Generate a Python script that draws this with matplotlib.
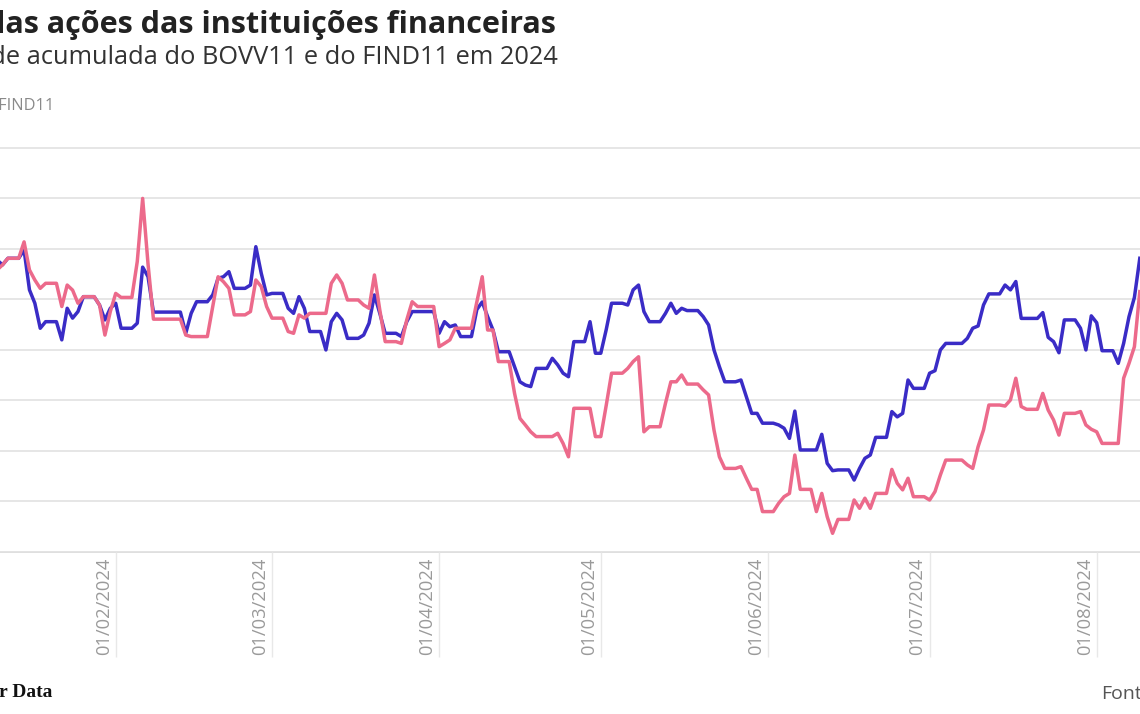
import numpy as np
import pandas as pd
import matplotlib
matplotlib.use("Agg")
import matplotlib.pyplot as plt
import matplotlib.dates as mdates
import matplotlib.transforms as mtransforms

# pregões de 10/01/2024 a 09/08/2024 (sem carnaval, sexta-feira santa, 1/5, corpus christi)
feriados = ["2024-02-12", "2024-02-13", "2024-03-29", "2024-05-01", "2024-05-30"]
pregoes = pd.bdate_range("2024-01-10", "2024-08-09", freq="C", holidays=feriados)

# rentabilidade acumulada no ano (%), um valor por pregão
bovv11 = [
    -2.44, -2.63, -2.37, -2.04, -3.62, -4.15, -5.14, -4.88, -5.60, -4.35, -4.74, -4.48, -3.89, -4.22, -4.81, -4.35,  # jan
    -4.15, -5.14, -4.94, -2.72, -3.10, -4.50, -4.50, -5.34, -4.55, -4.09, -3.82, -3.16, -3.10, -2.90, -3.56, -3.43, -1.91, -2.96, -3.82,  # fev
    -3.76, -4.35, -4.55, -3.89, -4.35, -5.27, -6.00, -4.88, -4.55, -4.81, -5.54, -5.41, -4.94, -3.82, -4.55, -5.34, -5.47, -4.88, -4.48, -4.48,  # mar
    -5.34, -4.88, -5.08, -5.01, -5.47, -4.40, -4.10, -4.68, -5.21, -6.07, -6.66, -7.26, -7.39, -7.45, -6.73, -6.33, -6.59, -6.92, -7.06, -5.67, -4.88, -6.13,  # abr
    -5.20, -4.15, -4.22, -3.62, -3.43, -4.48, -4.88, -4.55, -4.15, -4.55, -4.35, -4.44, -4.68, -5.01, -6.00, -6.66, -7.26, -7.19, -7.85, -8.51, -8.90,  # mai
    -8.97, -9.10, -9.50, -8.42, -9.96, -9.96, -9.34, -10.49, -10.78, -10.75, -11.15, -10.69, -10.29, -10.16, -9.46, -8.44, -8.65, -8.51, -7.19, -7.52,  # jun
    -6.92, -6.82, -6.00, -5.74, -5.74, -5.54, -5.14, -5.05, -4.22, -3.78, -3.43, -3.62, -3.29, -4.75, -4.75, -4.52, -5.50, -5.67, -6.11, -4.81, -5.14, -6.00, -4.65,  # jul
    -4.92, -6.03, -6.53, -5.74, -4.68, -3.92, -2.37,  # ago
]
find11 = [
    -2.83, -2.63, -2.37, -1.72, -2.83, -3.23, -3.56, -3.36, -4.28, -3.43, -3.63, -4.15, -3.89, -4.22, -5.41, -4.48,  # jan
    -3.76, -3.92, -2.50, 0.00, -2.60, -4.78, -4.78, -5.41, -5.47, -5.47, -4.28, -3.10, -3.30, -3.56, -4.61, -4.48, -3.23, -3.49, -4.28,  # fev
    -4.74, -5.27, -5.34, -4.61, -4.74, -4.55, -4.55, -3.36, -3.03, -3.36, -4.02, -4.22, -4.35, -3.03, -4.42, -5.67, -5.74, -4.81, -4.09, -4.28,  # mar
    -5.87, -5.74, -5.60, -5.14, -5.14, -4.10, -3.10, -5.21, -5.21, -6.46, -7.72, -8.71, -8.97, -9.24, -9.43, -9.43, -9.30, -9.70, -10.23, -8.31, -8.31, -9.43,  # abr
    -8.20, -6.92, -6.73, -6.46, -6.27, -9.24, -9.04, -8.11, -7.26, -7.26, -6.99, -7.35, -7.58, -7.78, -9.17, -10.23, -10.69, -10.62, -11.08, -11.52, -12.40,  # mai
    -12.07, -11.81, -11.68, -10.16, -11.52, -12.40, -11.68, -12.60, -13.26, -12.71, -11.94, -12.27, -11.87, -12.27, -11.68, -10.73, -11.28, -11.54, -11.08, -11.81,  # jun
    -11.94, -11.61, -10.95, -10.36, -10.36, -10.55, -10.69, -9.83, -9.17, -8.18, -8.22, -7.98, -7.12, -8.24, -8.35, -7.72, -8.38, -8.77, -9.37, -8.51, -8.44, -8.97, -9.14,  # jul
    -9.24, -9.70, -9.70, -7.12, -6.53, -5.87, -3.69,  # ago
]

meses = ["2024-02-01", "2024-03-01", "2024-04-01", "2024-05-01", "2024-06-01", "2024-07-01", "2024-08-01"]
rotulos = ["01/02/2024", "01/03/2024", "01/04/2024", "01/05/2024", "01/06/2024", "01/07/2024", "01/08/2024"]

# o gráfico repete o último valor nos fins de semana e feriados
dias = pd.date_range(pregoes[0], pregoes[-1], freq="D")
df = pd.DataFrame({"BOVV11": bovv11, "FIND11": find11}, index=pregoes).reindex(dias).ffill()

W, H = 1140, 714
fig = plt.figure(figsize=(W / 100, H / 100), dpi=100)
fig.patch.set_facecolor("white")

def fx(x):
    return x / W

def fy(y):
    return 1 - y / H

ax = fig.add_axes([0, fy(552), 1, (552 - 130) / H])
ax.set_facecolor("white")

px_dia = 5.39
x0 = mdates.date2num(pd.Timestamp("2024-02-01")) - 115.7 / px_dia
ax.set_xlim(x0, x0 + W / px_dia)
ax.set_ylim(-14, 2.71)

ax.set_yticks(np.arange(-14, 3, 2))
ax.yaxis.grid(True, color="#e4e4e4", lw=1.3)
ax.tick_params(axis="y", length=0, labelleft=False)
ax.axhline(-14, color="#dcdcdc", lw=1.3, clip_on=False, zorder=1)
for s in ax.spines.values():
    s.set_visible(False)

ax.plot(df.index, df["BOVV11"], color="#3a2cc6", lw=2.5, zorder=3)
ax.plot(df.index, df["FIND11"], color="#ec6a8b", lw=2.5, zorder=4)

ticks = pd.to_datetime(meses)
ax.set_xticks(ticks)
ax.tick_params(axis="x", length=105 * 0.72, width=1, color="#e8e8e8", labelbottom=False)
trans = mtransforms.blended_transform_factory(ax.transData, ax.transAxes)
off = mtransforms.ScaledTranslation(-3 / 100, -6 / 100, fig.dpi_scale_trans)
for d, r in zip(ticks, rotulos):
    ax.text(d, 0, r, transform=trans + off, rotation=90, ha="right", va="top",
            fontsize=13.2, color="#9a9a9a", family="Open Sans")

fig.text(fx(556), fy(33), "das ações das instituições financeiras", ha="right", va="baseline",
         fontsize=22.0, fontweight="bold", color="#222222", family="Open Sans")
fig.text(fx(558), fy(64), "Rentabilidade acumulada do BOVV11 e do FIND11 em 2024", ha="right",
         va="baseline", fontsize=18.3, color="#333333", family="Open Sans")
fig.text(fx(54), fy(110), "BOVV11 e FIND11", ha="right", va="baseline",
         fontsize=11.8, color="#8a8a8a", family="Open Sans")
fig.text(fx(52), fy(697), "Poder Data", ha="right", va="baseline",
         fontsize=14, fontweight="bold", color="#111111", family="Liberation Serif")
fig.text(fx(1101), fy(699), "Fonte:", ha="left", va="baseline",
         fontsize=14, color="#555555", family="Open Sans")

fig.savefig("out.png", dpi=100)
